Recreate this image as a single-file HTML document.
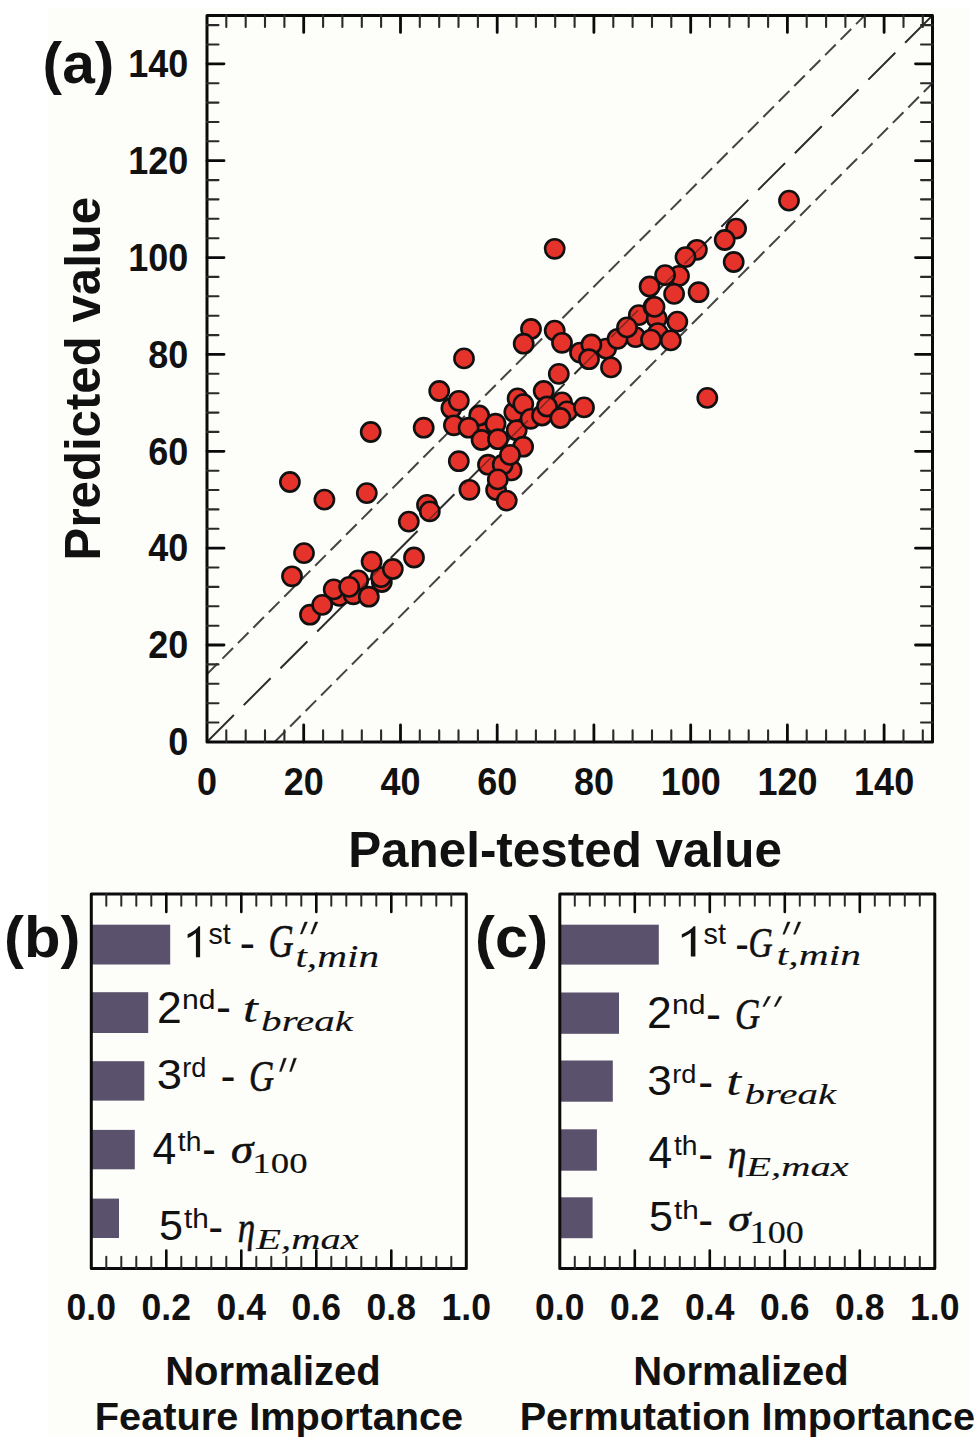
<!DOCTYPE html><html><head><meta charset="utf-8"><style>html,body{margin:0;padding:0;background:#fdfdfa;}svg{display:block;}</style></head><body>
<svg width="980" height="1437" viewBox="0 0 980 1437">
<rect x="0" y="0" width="980" height="1437" fill="#fdfdfa"/>
<rect x="0" y="0" width="48" height="1437" fill="#ffffff"/><rect x="0" y="0" width="980" height="8" fill="#ffffff"/><rect x="969" y="0" width="11" height="1437" fill="#ffffff"/>
<defs><clipPath id="ca"><rect x="207.0" y="15.4" width="725.5" height="726.5"/></clipPath></defs>
<g clip-path="url(#ca)" stroke="#444" stroke-width="2.0" fill="none">
<line x1="207.0" y1="741.9" x2="932.5" y2="15.4" stroke-dasharray="38 14"/>
<line x1="207.0" y1="674.1" x2="864.8" y2="15.4" stroke-dasharray="15 6.87"/>
<line x1="274.7" y1="741.9" x2="932.5" y2="83.2" stroke-dasharray="15 6.87"/>
</g>
<g fill="#e5332b" stroke="#111" stroke-width="2.6">
<circle cx="289.9" cy="482.0" r="9.6"/>
<circle cx="324.4" cy="499.6" r="9.6"/>
<circle cx="366.8" cy="493.1" r="9.6"/>
<circle cx="408.8" cy="521.6" r="9.6"/>
<circle cx="427.0" cy="504.9" r="9.6"/>
<circle cx="429.8" cy="511.4" r="9.6"/>
<circle cx="304.0" cy="553.1" r="9.6"/>
<circle cx="292.0" cy="576.3" r="9.6"/>
<circle cx="414.0" cy="557.5" r="9.6"/>
<circle cx="381.8" cy="582.0" r="9.6"/>
<circle cx="381.0" cy="577.1" r="9.6"/>
<circle cx="371.6" cy="561.6" r="9.6"/>
<circle cx="392.8" cy="569.0" r="9.6"/>
<circle cx="339.4" cy="595.9" r="9.6"/>
<circle cx="353.3" cy="594.3" r="9.6"/>
<circle cx="358.2" cy="580.4" r="9.6"/>
<circle cx="333.7" cy="589.4" r="9.6"/>
<circle cx="349.2" cy="586.9" r="9.6"/>
<circle cx="368.8" cy="596.7" r="9.6"/>
<circle cx="310.0" cy="614.7" r="9.6"/>
<circle cx="322.2" cy="604.9" r="9.6"/>
<circle cx="370.7" cy="432.0" r="9.6"/>
<circle cx="423.7" cy="427.7" r="9.6"/>
<circle cx="464.0" cy="358.4" r="9.6"/>
<circle cx="439.2" cy="391.0" r="9.6"/>
<circle cx="451.4" cy="408.2" r="9.6"/>
<circle cx="458.8" cy="400.8" r="9.6"/>
<circle cx="482.4" cy="426.9" r="9.6"/>
<circle cx="453.9" cy="425.3" r="9.6"/>
<circle cx="479.2" cy="415.5" r="9.6"/>
<circle cx="468.6" cy="427.7" r="9.6"/>
<circle cx="495.5" cy="423.7" r="9.6"/>
<circle cx="481.6" cy="440.0" r="9.6"/>
<circle cx="498.0" cy="439.2" r="9.6"/>
<circle cx="514.3" cy="412.2" r="9.6"/>
<circle cx="517.6" cy="398.4" r="9.6"/>
<circle cx="523.3" cy="404.1" r="9.6"/>
<circle cx="516.7" cy="430.2" r="9.6"/>
<circle cx="530.6" cy="418.8" r="9.6"/>
<circle cx="543.7" cy="391.0" r="9.6"/>
<circle cx="562.0" cy="402.4" r="9.6"/>
<circle cx="542.0" cy="415.5" r="9.6"/>
<circle cx="547.0" cy="406.5" r="9.6"/>
<circle cx="567.0" cy="411.4" r="9.6"/>
<circle cx="560.4" cy="418.0" r="9.6"/>
<circle cx="584.0" cy="407.4" r="9.6"/>
<circle cx="523.1" cy="446.7" r="9.6"/>
<circle cx="511.6" cy="470.4" r="9.6"/>
<circle cx="488.0" cy="464.7" r="9.6"/>
<circle cx="502.7" cy="464.7" r="9.6"/>
<circle cx="510.0" cy="454.9" r="9.6"/>
<circle cx="458.8" cy="461.2" r="9.6"/>
<circle cx="496.1" cy="490.0" r="9.6"/>
<circle cx="497.8" cy="479.4" r="9.6"/>
<circle cx="469.4" cy="489.8" r="9.6"/>
<circle cx="506.7" cy="500.6" r="9.6"/>
<circle cx="531.0" cy="329.0" r="9.6"/>
<circle cx="523.7" cy="343.7" r="9.6"/>
<circle cx="554.7" cy="330.6" r="9.6"/>
<circle cx="562.0" cy="342.8" r="9.6"/>
<circle cx="606.1" cy="348.6" r="9.6"/>
<circle cx="580.0" cy="352.6" r="9.6"/>
<circle cx="591.4" cy="344.5" r="9.6"/>
<circle cx="589.0" cy="359.2" r="9.6"/>
<circle cx="611.0" cy="367.4" r="9.6"/>
<circle cx="638.8" cy="315.1" r="9.6"/>
<circle cx="635.5" cy="337.1" r="9.6"/>
<circle cx="617.6" cy="338.8" r="9.6"/>
<circle cx="627.0" cy="327.4" r="9.6"/>
<circle cx="653.5" cy="306.9" r="9.6"/>
<circle cx="558.8" cy="373.9" r="9.6"/>
<circle cx="554.7" cy="248.8" r="9.6"/>
<circle cx="736.1" cy="228.6" r="9.6"/>
<circle cx="724.7" cy="240.0" r="9.6"/>
<circle cx="733.7" cy="262.0" r="9.6"/>
<circle cx="696.9" cy="249.8" r="9.6"/>
<circle cx="685.5" cy="257.1" r="9.6"/>
<circle cx="679.0" cy="275.9" r="9.6"/>
<circle cx="665.1" cy="275.1" r="9.6"/>
<circle cx="649.6" cy="286.5" r="9.6"/>
<circle cx="674.1" cy="293.9" r="9.6"/>
<circle cx="698.6" cy="292.2" r="9.6"/>
<circle cx="656.7" cy="318.4" r="9.6"/>
<circle cx="654.5" cy="306.9" r="9.6"/>
<circle cx="657.8" cy="333.1" r="9.6"/>
<circle cx="670.8" cy="340.4" r="9.6"/>
<circle cx="677.3" cy="321.6" r="9.6"/>
<circle cx="651.0" cy="339.6" r="9.6"/>
<circle cx="789.0" cy="200.6" r="9.6"/>
<circle cx="707.3" cy="397.9" r="9.6"/>
</g>
<line clip-path="url(#ca)" x1="207.0" y1="741.9" x2="932.5" y2="15.4" stroke="#111" stroke-opacity="0.45" stroke-width="1.6" stroke-dasharray="38 14"/>
<rect x="207.0" y="15.4" width="725.5" height="726.5" stroke-width="3" stroke="#0a0a0a" fill="none" stroke-linejoin="round"/>
<path d="M226.3 741.9v-11.5M226.3 15.4v11.5M245.7 741.9v-11.5M245.7 15.4v11.5M265.0 741.9v-11.5M265.0 15.4v11.5M284.4 741.9v-11.5M284.4 15.4v11.5M323.1 741.9v-11.5M323.1 15.4v11.5M342.4 741.9v-11.5M342.4 15.4v11.5M361.8 741.9v-11.5M361.8 15.4v11.5M381.1 741.9v-11.5M381.1 15.4v11.5M419.8 741.9v-11.5M419.8 15.4v11.5M439.2 741.9v-11.5M439.2 15.4v11.5M458.5 741.9v-11.5M458.5 15.4v11.5M477.9 741.9v-11.5M477.9 15.4v11.5M516.5 741.9v-11.5M516.5 15.4v11.5M535.9 741.9v-11.5M535.9 15.4v11.5M555.2 741.9v-11.5M555.2 15.4v11.5M574.6 741.9v-11.5M574.6 15.4v11.5M613.3 741.9v-11.5M613.3 15.4v11.5M632.6 741.9v-11.5M632.6 15.4v11.5M652.0 741.9v-11.5M652.0 15.4v11.5M671.3 741.9v-11.5M671.3 15.4v11.5M710.0 741.9v-11.5M710.0 15.4v11.5M729.4 741.9v-11.5M729.4 15.4v11.5M748.7 741.9v-11.5M748.7 15.4v11.5M768.1 741.9v-11.5M768.1 15.4v11.5M806.7 741.9v-11.5M806.7 15.4v11.5M826.1 741.9v-11.5M826.1 15.4v11.5M845.4 741.9v-11.5M845.4 15.4v11.5M864.8 741.9v-11.5M864.8 15.4v11.5M903.5 741.9v-11.5M903.5 15.4v11.5M922.8 741.9v-11.5M922.8 15.4v11.5M207.0 722.5h11.5M932.5 722.5h-11.5M207.0 703.2h11.5M932.5 703.2h-11.5M207.0 683.8h11.5M932.5 683.8h-11.5M207.0 664.4h11.5M932.5 664.4h-11.5M207.0 625.7h11.5M932.5 625.7h-11.5M207.0 606.3h11.5M932.5 606.3h-11.5M207.0 586.9h11.5M932.5 586.9h-11.5M207.0 567.5h11.5M932.5 567.5h-11.5M207.0 528.8h11.5M932.5 528.8h-11.5M207.0 509.4h11.5M932.5 509.4h-11.5M207.0 490.0h11.5M932.5 490.0h-11.5M207.0 470.7h11.5M932.5 470.7h-11.5M207.0 431.9h11.5M932.5 431.9h-11.5M207.0 412.6h11.5M932.5 412.6h-11.5M207.0 393.2h11.5M932.5 393.2h-11.5M207.0 373.8h11.5M932.5 373.8h-11.5M207.0 335.1h11.5M932.5 335.1h-11.5M207.0 315.7h11.5M932.5 315.7h-11.5M207.0 296.3h11.5M932.5 296.3h-11.5M207.0 276.9h11.5M932.5 276.9h-11.5M207.0 238.2h11.5M932.5 238.2h-11.5M207.0 218.8h11.5M932.5 218.8h-11.5M207.0 199.4h11.5M932.5 199.4h-11.5M207.0 180.1h11.5M932.5 180.1h-11.5M207.0 141.3h11.5M932.5 141.3h-11.5M207.0 122.0h11.5M932.5 122.0h-11.5M207.0 102.6h11.5M932.5 102.6h-11.5M207.0 83.2h11.5M932.5 83.2h-11.5M207.0 44.5h11.5M932.5 44.5h-11.5M207.0 25.1h11.5M932.5 25.1h-11.5" stroke="#2a2a2a" stroke-width="2.1" fill="none" stroke-linecap="round"/>
<path d="M303.7 741.9v-17.0M303.7 15.4v17.0M400.5 741.9v-17.0M400.5 15.4v17.0M497.2 741.9v-17.0M497.2 15.4v17.0M593.9 741.9v-17.0M593.9 15.4v17.0M690.7 741.9v-17.0M690.7 15.4v17.0M787.4 741.9v-17.0M787.4 15.4v17.0M884.1 741.9v-17.0M884.1 15.4v17.0M207.0 645.0h17.0M932.5 645.0h-17.0M207.0 548.2h17.0M932.5 548.2h-17.0M207.0 451.3h17.0M932.5 451.3h-17.0M207.0 354.4h17.0M932.5 354.4h-17.0M207.0 257.6h17.0M932.5 257.6h-17.0M207.0 160.7h17.0M932.5 160.7h-17.0M207.0 63.8h17.0M932.5 63.8h-17.0" stroke="#0a0a0a" stroke-width="2.8" fill="none" stroke-linecap="round"/>
<g font-family="Liberation Sans" font-weight="bold" fill="#111">
<text transform="translate(188.3 755.20) scale(0.935 1)" font-size="38.5" text-anchor="end">0</text>
<text transform="translate(207.00 795.3) scale(0.935 1)" font-size="38.5" text-anchor="middle">0</text>
<text transform="translate(188.3 658.33) scale(0.935 1)" font-size="38.5" text-anchor="end">20</text>
<text transform="translate(303.73 795.3) scale(0.935 1)" font-size="38.5" text-anchor="middle">20</text>
<text transform="translate(188.3 561.47) scale(0.935 1)" font-size="38.5" text-anchor="end">40</text>
<text transform="translate(400.47 795.3) scale(0.935 1)" font-size="38.5" text-anchor="middle">40</text>
<text transform="translate(188.3 464.60) scale(0.935 1)" font-size="38.5" text-anchor="end">60</text>
<text transform="translate(497.20 795.3) scale(0.935 1)" font-size="38.5" text-anchor="middle">60</text>
<text transform="translate(188.3 367.73) scale(0.935 1)" font-size="38.5" text-anchor="end">80</text>
<text transform="translate(593.93 795.3) scale(0.935 1)" font-size="38.5" text-anchor="middle">80</text>
<text transform="translate(188.3 270.87) scale(0.935 1)" font-size="38.5" text-anchor="end">100</text>
<text transform="translate(690.67 795.3) scale(0.935 1)" font-size="38.5" text-anchor="middle">100</text>
<text transform="translate(188.3 174.00) scale(0.935 1)" font-size="38.5" text-anchor="end">120</text>
<text transform="translate(787.40 795.3) scale(0.935 1)" font-size="38.5" text-anchor="middle">120</text>
<text transform="translate(188.3 77.13) scale(0.935 1)" font-size="38.5" text-anchor="end">140</text>
<text transform="translate(884.13 795.3) scale(0.935 1)" font-size="38.5" text-anchor="middle">140</text>
</g>
<text transform="translate(42.6 83) scale(1.02 1)" font-family="Liberation Sans" font-weight="bold" font-size="57.5" fill="#111">(a)</text>
<text transform="translate(99.8,378.6) rotate(-90)" text-anchor="middle" font-family="Liberation Sans" font-weight="bold" font-size="49.2" fill="#111">Predicted value</text>
<text x="565" y="867" text-anchor="middle" font-family="Liberation Sans" font-weight="bold" font-size="49.4" fill="#111">Panel-tested value</text>
<rect x="91.3" y="924.7" width="78.9" height="39.8" fill="#5a516c"/>
<rect x="91.3" y="992.2" width="56.9" height="40.8" fill="#5a516c"/>
<rect x="91.3" y="1061.2" width="53.0" height="39.4" fill="#5a516c"/>
<rect x="91.3" y="1129.9" width="43.5" height="39.4" fill="#5a516c"/>
<rect x="91.3" y="1198.6" width="27.7" height="39.4" fill="#5a516c"/>
<rect x="91.3" y="893.9" width="375.0" height="374.7" stroke-width="3" stroke="#0a0a0a" fill="none" stroke-linejoin="round"/>
<path d="M106.3 1268.6v-11.8M106.3 893.9v11.8M121.3 1268.6v-11.8M121.3 893.9v11.8M136.3 1268.6v-11.8M136.3 893.9v11.8M151.3 1268.6v-11.8M151.3 893.9v11.8M181.3 1268.6v-11.8M181.3 893.9v11.8M196.3 1268.6v-11.8M196.3 893.9v11.8M211.3 1268.6v-11.8M211.3 893.9v11.8M226.3 1268.6v-11.8M226.3 893.9v11.8M256.3 1268.6v-11.8M256.3 893.9v11.8M271.3 1268.6v-11.8M271.3 893.9v11.8M286.3 1268.6v-11.8M286.3 893.9v11.8M301.3 1268.6v-11.8M301.3 893.9v11.8M331.3 1268.6v-11.8M331.3 893.9v11.8M346.3 1268.6v-11.8M346.3 893.9v11.8M361.3 1268.6v-11.8M361.3 893.9v11.8M376.3 1268.6v-11.8M376.3 893.9v11.8M406.3 1268.6v-11.8M406.3 893.9v11.8M421.3 1268.6v-11.8M421.3 893.9v11.8M436.3 1268.6v-11.8M436.3 893.9v11.8M451.3 1268.6v-11.8M451.3 893.9v11.8" stroke="#2a2a2a" stroke-width="2.0" fill="none" stroke-linecap="round"/>
<path d="M166.3 1268.6v-18.0M166.3 893.9v18.0M241.3 1268.6v-18.0M241.3 893.9v18.0M316.3 1268.6v-18.0M316.3 893.9v18.0M391.3 1268.6v-18.0M391.3 893.9v18.0" stroke="#0a0a0a" stroke-width="2.6" fill="none" stroke-linecap="round"/>
<g font-family="Liberation Sans" font-weight="bold" fill="#111">
<text transform="translate(91.30 1319.5) scale(0.955 1)" font-size="37.2" text-anchor="middle">0.0</text>
<text transform="translate(166.30 1319.5) scale(0.955 1)" font-size="37.2" text-anchor="middle">0.2</text>
<text transform="translate(241.30 1319.5) scale(0.955 1)" font-size="37.2" text-anchor="middle">0.4</text>
<text transform="translate(316.30 1319.5) scale(0.955 1)" font-size="37.2" text-anchor="middle">0.6</text>
<text transform="translate(391.30 1319.5) scale(0.955 1)" font-size="37.2" text-anchor="middle">0.8</text>
<text transform="translate(466.30 1319.5) scale(0.955 1)" font-size="37.2" text-anchor="middle">1.0</text>
</g>
<rect x="559.8" y="924.7" width="99.0" height="39.9" fill="#5a516c"/>
<rect x="559.8" y="992.5" width="59.2" height="41.3" fill="#5a516c"/>
<rect x="559.8" y="1060.5" width="53.0" height="41.2" fill="#5a516c"/>
<rect x="559.8" y="1129.3" width="37.1" height="41.4" fill="#5a516c"/>
<rect x="559.8" y="1197.3" width="32.8" height="40.9" fill="#5a516c"/>
<rect x="559.8" y="893.9" width="375.0" height="374.7" stroke-width="3" stroke="#0a0a0a" fill="none" stroke-linejoin="round"/>
<path d="M574.8 1268.6v-11.8M574.8 893.9v11.8M589.8 1268.6v-11.8M589.8 893.9v11.8M604.8 1268.6v-11.8M604.8 893.9v11.8M619.8 1268.6v-11.8M619.8 893.9v11.8M649.8 1268.6v-11.8M649.8 893.9v11.8M664.8 1268.6v-11.8M664.8 893.9v11.8M679.8 1268.6v-11.8M679.8 893.9v11.8M694.8 1268.6v-11.8M694.8 893.9v11.8M724.8 1268.6v-11.8M724.8 893.9v11.8M739.8 1268.6v-11.8M739.8 893.9v11.8M754.8 1268.6v-11.8M754.8 893.9v11.8M769.8 1268.6v-11.8M769.8 893.9v11.8M799.8 1268.6v-11.8M799.8 893.9v11.8M814.8 1268.6v-11.8M814.8 893.9v11.8M829.8 1268.6v-11.8M829.8 893.9v11.8M844.8 1268.6v-11.8M844.8 893.9v11.8M874.8 1268.6v-11.8M874.8 893.9v11.8M889.8 1268.6v-11.8M889.8 893.9v11.8M904.8 1268.6v-11.8M904.8 893.9v11.8M919.8 1268.6v-11.8M919.8 893.9v11.8" stroke="#2a2a2a" stroke-width="2.0" fill="none" stroke-linecap="round"/>
<path d="M634.8 1268.6v-18.0M634.8 893.9v18.0M709.8 1268.6v-18.0M709.8 893.9v18.0M784.8 1268.6v-18.0M784.8 893.9v18.0M859.8 1268.6v-18.0M859.8 893.9v18.0" stroke="#0a0a0a" stroke-width="2.6" fill="none" stroke-linecap="round"/>
<g font-family="Liberation Sans" font-weight="bold" fill="#111">
<text transform="translate(559.80 1319.5) scale(0.955 1)" font-size="37.2" text-anchor="middle">0.0</text>
<text transform="translate(634.80 1319.5) scale(0.955 1)" font-size="37.2" text-anchor="middle">0.2</text>
<text transform="translate(709.80 1319.5) scale(0.955 1)" font-size="37.2" text-anchor="middle">0.4</text>
<text transform="translate(784.80 1319.5) scale(0.955 1)" font-size="37.2" text-anchor="middle">0.6</text>
<text transform="translate(859.80 1319.5) scale(0.955 1)" font-size="37.2" text-anchor="middle">0.8</text>
<text transform="translate(934.80 1319.5) scale(0.955 1)" font-size="37.2" text-anchor="middle">1.0</text>
</g>
<text transform="translate(4 956.5) scale(1.04 1)" font-family="Liberation Sans" font-weight="bold" font-size="57.5" fill="#111">(b)</text>
<text transform="translate(475 956.5) scale(1.04 1)" font-family="Liberation Sans" font-weight="bold" font-size="57.5" fill="#111">(c)</text>
<g font-family="Liberation Sans" font-weight="bold" fill="#111" font-size="40" text-anchor="middle">
<text x="273" y="1384.5">Normalized</text><text x="279" y="1429.5" font-size="39.7">Feature Importance</text>
<text x="741" y="1384.5">Normalized</text><text x="747.3" y="1429.5" font-size="39.6">Permutation Importance</text>
</g>
<text transform="translate(208.46 944.15) scale(0.9964 1)" font-family="Liberation Sans" font-style="normal" font-weight="normal" font-size="28.58" fill="#111">st</text>
<text transform="translate(239.43 958.02) scale(1.0695 1)" font-family="Liberation Sans" font-style="normal" font-weight="normal" font-size="44.00" fill="#111">-</text>
<text transform="translate(268.57 957.49) scale(0.7607 1)" font-family="Liberation Serif" font-style="italic" font-weight="normal" font-size="45.67" fill="#111" stroke="#111" stroke-width="0.60">G</text>
<text transform="translate(295.41 966.58) scale(1.3093 1)" font-family="Liberation Serif" font-style="italic" font-weight="normal" font-size="31.52" fill="#111" stroke="#111" stroke-width="0.12">t,min</text>
<text transform="translate(157.11 1022.50) scale(1.0080 1)" font-family="Liberation Sans" font-style="normal" font-weight="normal" font-size="44.23" fill="#111">2</text>
<text transform="translate(182.02 1008.56) scale(1.0798 1)" font-family="Liberation Sans" font-style="normal" font-weight="normal" font-size="27.87" fill="#111">nd</text>
<text transform="translate(216.09 1021.92) scale(1.0267 1)" font-family="Liberation Sans" font-style="normal" font-weight="normal" font-size="44.00" fill="#111">-</text>
<text transform="translate(242.80 1021.86) scale(1.3292 1)" font-family="Liberation Serif" font-style="italic" font-weight="normal" font-size="40.93" fill="#111" stroke="#111" stroke-width="0.10">t</text>
<text transform="translate(261.12 1030.95) scale(1.4120 1)" font-family="Liberation Serif" font-style="italic" font-weight="normal" font-size="29.08" fill="#111" stroke="#111" stroke-width="0.12">break</text>
<text transform="translate(156.68 1089.05) scale(1.0918 1)" font-family="Liberation Sans" font-style="normal" font-weight="normal" font-size="41.60" fill="#111">3</text>
<text transform="translate(182.20 1076.96) scale(0.9687 1)" font-family="Liberation Sans" font-style="normal" font-weight="normal" font-size="28.00" fill="#111">rd</text>
<text transform="translate(220.59 1091.42) scale(1.0267 1)" font-family="Liberation Sans" font-style="normal" font-weight="normal" font-size="44.00" fill="#111">-</text>
<text transform="translate(248.97 1091.20) scale(0.7705 1)" font-family="Liberation Serif" font-style="italic" font-weight="normal" font-size="45.09" fill="#111" stroke="#111" stroke-width="0.60">G</text>
<text transform="translate(152.43 1163.60) scale(0.9646 1)" font-family="Liberation Sans" font-style="normal" font-weight="normal" font-size="44.23" fill="#111">4</text>
<text transform="translate(177.80 1150.76) scale(1.0150 1)" font-family="Liberation Sans" font-style="normal" font-weight="normal" font-size="27.87" fill="#111">th</text>
<text transform="translate(202.33 1164.22) scale(0.9241 1)" font-family="Liberation Sans" font-style="normal" font-weight="normal" font-size="44.00" fill="#111">-</text>
<text transform="translate(230.90 1162.98) scale(1.1382 1)" font-family="Liberation Serif" font-style="italic" font-weight="normal" font-size="39.53" fill="#111" stroke="#111" stroke-width="0.60">σ</text>
<text transform="translate(252.32 1173.25) scale(1.2784 1)" font-family="Liberation Serif" font-style="normal" font-weight="normal" font-size="28.80" fill="#111" stroke="#111" stroke-width="0.12">100</text>
<text transform="translate(158.95 1239.62) scale(0.9972 1)" font-family="Liberation Sans" font-style="normal" font-weight="normal" font-size="43.27" fill="#111">5</text>
<text transform="translate(183.90 1227.56) scale(1.0606 1)" font-family="Liberation Sans" font-style="normal" font-weight="normal" font-size="28.00" fill="#111">th</text>
<text transform="translate(208.30 1242.02) scale(1.0182 1)" font-family="Liberation Sans" font-style="normal" font-weight="normal" font-size="44.00" fill="#111">-</text>
<text transform="translate(237.81 1241.86) scale(0.7932 1)" font-family="Liberation Serif" font-style="italic" font-weight="normal" font-size="44.09" fill="#111" stroke="#111" stroke-width="0.60">η</text>
<text transform="translate(256.33 1249.34) scale(1.4209 1)" font-family="Liberation Serif" font-style="italic" font-weight="normal" font-size="28.55" fill="#111" stroke="#111" stroke-width="0.12">E,max</text>
<text transform="translate(703.55 944.14) scale(0.9751 1)" font-family="Liberation Sans" font-style="normal" font-weight="normal" font-size="29.47" fill="#111">st</text>
<text transform="translate(735.22 958.72) scale(0.9326 1)" font-family="Liberation Sans" font-style="normal" font-weight="normal" font-size="44.00" fill="#111">-</text>
<text transform="translate(748.43 957.44) scale(0.7975 1)" font-family="Liberation Serif" font-style="italic" font-weight="normal" font-size="42.04" fill="#111" stroke="#111" stroke-width="0.60">G</text>
<text transform="translate(776.80 965.16) scale(1.3960 1)" font-family="Liberation Serif" font-style="italic" font-weight="normal" font-size="29.71" fill="#111" stroke="#111" stroke-width="0.12">t,min</text>
<text transform="translate(647.11 1028.10) scale(1.0080 1)" font-family="Liberation Sans" font-style="normal" font-weight="normal" font-size="44.23" fill="#111">2</text>
<text transform="translate(672.02 1014.16) scale(1.0798 1)" font-family="Liberation Sans" font-style="normal" font-weight="normal" font-size="27.87" fill="#111">nd</text>
<text transform="translate(706.09 1028.72) scale(1.0267 1)" font-family="Liberation Sans" font-style="normal" font-weight="normal" font-size="44.00" fill="#111">-</text>
<text transform="translate(735.07 1028.52) scale(0.7962 1)" font-family="Liberation Serif" font-style="italic" font-weight="normal" font-size="43.64" fill="#111" stroke="#111" stroke-width="0.60">G</text>
<text transform="translate(647.32 1094.62) scale(1.0211 1)" font-family="Liberation Sans" font-style="normal" font-weight="normal" font-size="43.27" fill="#111">3</text>
<text transform="translate(672.20 1082.59) scale(1.0275 1)" font-family="Liberation Sans" font-style="normal" font-weight="normal" font-size="26.40" fill="#111">rd</text>
<text transform="translate(698.30 1097.12) scale(1.0182 1)" font-family="Liberation Sans" font-style="normal" font-weight="normal" font-size="44.00" fill="#111">-</text>
<text transform="translate(726.13 1094.66) scale(1.3032 1)" font-family="Liberation Serif" font-style="italic" font-weight="normal" font-size="40.93" fill="#111" stroke="#111" stroke-width="0.10">t</text>
<text transform="translate(744.42 1103.84) scale(1.3971 1)" font-family="Liberation Serif" font-style="italic" font-weight="normal" font-size="29.36" fill="#111" stroke="#111" stroke-width="0.12">break</text>
<text transform="translate(648.53 1167.60) scale(0.9646 1)" font-family="Liberation Sans" font-style="normal" font-weight="normal" font-size="44.23" fill="#111">4</text>
<text transform="translate(673.90 1154.76) scale(1.0150 1)" font-family="Liberation Sans" font-style="normal" font-weight="normal" font-size="27.87" fill="#111">th</text>
<text transform="translate(698.30 1169.42) scale(1.0182 1)" font-family="Liberation Sans" font-style="normal" font-weight="normal" font-size="44.00" fill="#111">-</text>
<text transform="translate(727.73 1167.57) scale(0.9184 1)" font-family="Liberation Serif" font-style="italic" font-weight="normal" font-size="40.82" fill="#111" stroke="#111" stroke-width="0.60">η</text>
<text transform="translate(746.33 1176.38) scale(1.4333 1)" font-family="Liberation Serif" font-style="italic" font-weight="normal" font-size="28.31" fill="#111" stroke="#111" stroke-width="0.12">E,max</text>
<text transform="translate(648.95 1231.23) scale(1.0004 1)" font-family="Liberation Sans" font-style="normal" font-weight="normal" font-size="43.13" fill="#111">5</text>
<text transform="translate(673.90 1219.19) scale(1.1249 1)" font-family="Liberation Sans" font-style="normal" font-weight="normal" font-size="26.40" fill="#111">th</text>
<text transform="translate(698.30 1234.83) scale(1.0182 1)" font-family="Liberation Sans" font-style="normal" font-weight="normal" font-size="44.00" fill="#111">-</text>
<text transform="translate(728.20 1231.35) scale(1.2727 1)" font-family="Liberation Serif" font-style="italic" font-weight="normal" font-size="35.20" fill="#111" stroke="#111" stroke-width="0.60">σ</text>
<text transform="translate(749.58 1242.72) scale(1.1818 1)" font-family="Liberation Serif" font-style="normal" font-weight="normal" font-size="30.55" fill="#111" stroke="#111" stroke-width="0.12">100</text>
<path fill="#111" stroke="#111" stroke-width="0.4" stroke-linejoin="round" d="M300.30 934.00L302.10 934.00L307.46 922.00L304.76 922.00ZM310.74 934.00L312.54 934.00L317.90 922.00L315.20 922.00Z"/>
<path fill="#111" stroke="#111" stroke-width="0.4" stroke-linejoin="round" d="M279.50 1071.60L281.30 1071.60L286.41 1058.20L283.71 1058.20ZM289.59 1071.60L291.39 1071.60L296.50 1058.20L293.80 1058.20Z"/>
<path fill="#111" stroke="#111" stroke-width="0.4" stroke-linejoin="round" d="M782.80 934.20L784.60 934.20L790.17 921.90L787.47 921.90ZM793.53 934.20L795.33 934.20L800.90 921.90L798.20 921.90Z"/>
<path fill="#111" stroke="#111" stroke-width="0.4" stroke-linejoin="round" d="M762.80 1006.50L764.60 1006.50L770.63 996.40L767.93 996.40ZM774.17 1006.50L775.97 1006.50L782.00 996.40L779.30 996.40Z"/>
<path transform="translate(187.60 957.20) scale(0.04753 -0.04330) translate(-109 0)" fill="#111" d="M372 0L284 0L284 560C241 519 184 478 109 443L109 528C149 547 193 574 240 610C287 646 320 681 339 716L372 716Z"/>
<path transform="translate(681.80 956.60) scale(0.05171 -0.04246) translate(-109 0)" fill="#111" d="M372 0L284 0L284 560C241 519 184 478 109 443L109 528C149 547 193 574 240 610C287 646 320 681 339 716L372 716Z"/>
</svg></body></html>
